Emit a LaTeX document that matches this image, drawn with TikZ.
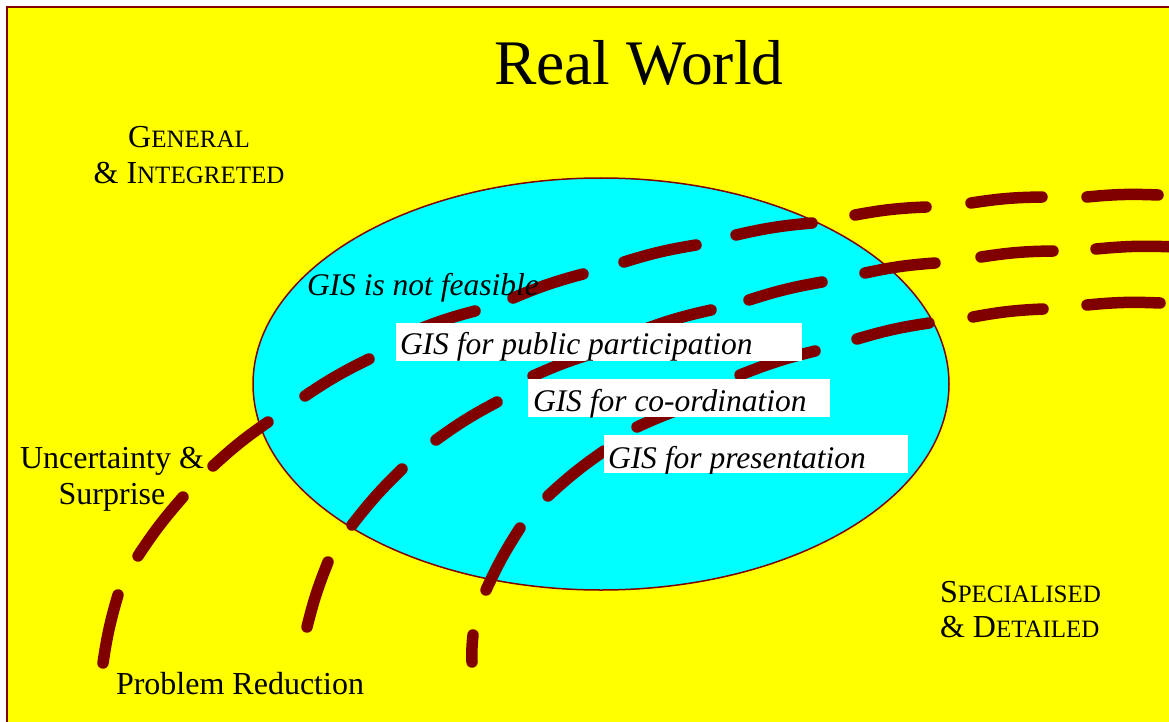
\documentclass[tikz,border=0pt]{standalone}
\usepackage{fontspec}
\setmainfont{Liberation Serif}
\definecolor{maroonred}{RGB}{128,0,0}
\definecolor{bgyellow}{RGB}{255,255,0}
\definecolor{lakecyan}{RGB}{0,255,255}
\newcommand\sck[1]{{\fontsize{25}{28}\selectfont #1}}
\begin{document}
\begin{tikzpicture}[x=1pt,y=-1pt,
  dashseg/.style={draw=maroonred,line width=11.5pt,line cap=round},
  lbl/.style={inner sep=0pt,outer sep=0pt,anchor=base west,font=\fontsize{32}{36}\selectfont},
  clbl/.style={lbl,anchor=base},
  itl/.style={lbl,font=\fontsize{31.5}{36}\selectfont\itshape},
  whitebox/.style={fill=white}]
\useasboundingbox (0,0) rectangle (1169,722);
\clip (0,0) rectangle (1169,722);
\fill[white] (0,0) rectangle (1169,722);
% frame
\draw[fill=bgyellow,draw=maroonred,line width=2pt] (7,7) rectangle (1190,745);
% ellipse
\draw[fill=lakecyan,draw=maroonred,line width=1.5pt] (601,384) ellipse [x radius=348pt, y radius=206pt];
% dashed curves
\foreach \a/\b/\c/\d in {
  103/663/118/595, 138/556/183/497, 213/466/268/422, 305/396/369/359,
  410/333/475/311, 513/298/583/274, 624/262/696/245, 736/235/812/223,
  855/215/926/207, 971/203/1042/197, 1087/197/1158/195,
  307/627/328/562, 352/525/402/469, 436/440/497/402, 533/376/598/352,
  640/331/711/310, 749/300/822/282, 865/273/935/263, 981/257/1053/251,
  1096/249/1175/247,
  472/662/473/635, 486/590/520/528, 548/496/604/451, 637/427/703/402,
  740/375/815/351, 857/339/929/323, 973/317/1043/309, 1087/305/1160/303}
  \draw[dashseg] (\a,\b) to[bend left=4] (\c,\d);
% texts
\node[lbl,font=\fontsize{63.5}{70}\selectfont] (title) at (494,85) {Real World};
\node[clbl] (gen1) at (189,148) {G\sck{ENERAL}};
\node[clbl] (gen2) at (189,183) {\& I\sck{NTEGRETED}};
\node[lbl] (spec1) at (940,602) {S\sck{PECIALISED}};
\node[lbl] (spec2) at (940,637) {\& D\sck{ETAILED}};
\node[clbl] (unc1) at (112,468) {Uncertainty \&};
\node[clbl] (unc2) at (112,504) {Surprise};
\node[lbl] (prob) at (116,694) {Problem Reduction};
\node[itl] (notf) at (307,295) {GIS is not feasible};
% boxed labels (clipped at box bottom)
\begin{scope}
  \clip (396,323) rectangle (802,361);
  \fill[whitebox] (396,323) rectangle (802,361);
  \node[itl] (pp) at (400,354) {GIS for public participation};
\end{scope}
\begin{scope}
  \clip (528,379) rectangle (830,417);
  \fill[whitebox] (528,379) rectangle (830,417);
  \node[itl] (coord) at (533,411) {GIS for co-ordination};
\end{scope}
\begin{scope}
  \clip (604,435) rectangle (908,473);
  \fill[whitebox] (604,435) rectangle (908,473);
  \node[itl] (pres) at (608,468) {GIS for presentation};
\end{scope}
\end{tikzpicture}
\end{document}
